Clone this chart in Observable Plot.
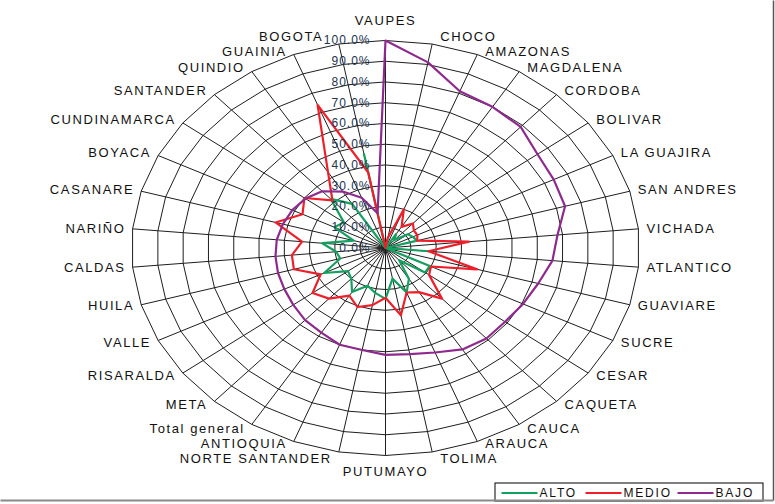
<!DOCTYPE html>
<html><head><meta charset="utf-8">
<script src="https://cdn.jsdelivr.net/npm/d3@7"></script>
<script src="https://cdn.jsdelivr.net/npm/@observablehq/plot@0.6"></script>
<style>
html,body{margin:0;padding:0;background:#fff;}
#chart svg{display:block;}
</style></head><body><div id="chart"></div>
<script>
// ---- data ----
const categories = ["VAUPES","CHOCO","AMAZONAS","MAGDALENA","CORDOBA","BOLIVAR","LA GUAJIRA","SAN ANDRES","VICHADA","ATLANTICO","GUAVIARE","SUCRE","CESAR","CAQUETA","CAUCA","ARAUCA","TOLIMA","PUTUMAYO","NORTE SANTANDER","ANTIOQUIA","Total general","META","RISARALDA","VALLE","HUILA","CALDAS","NARIÑO","CASANARE","BOYACA","CUNDINAMARCA","SANTANDER","QUINDIO","GUAINIA","BOGOTA"];
const seriesNames = ["ALTO","MEDIO","BAJO"];
const alto  = [0, 4, 0, 8, 5, 11, 12, 13, 0, 17, 0, 19.5, 19.5, 8, 17.5, 23, 15, 24.5, 22, 19.5, 25, 20, 18.5, 27, 18.5, 19.5, 25, 13, 22.5, 20.5, 32, 25, 0, 46];
const medio = [0, 5, 20, 12, 16, 14, 14, 13, 33, 17, 37.5, 20, 21.5, 33, 25, 23, 33, 24, 28, 30.5, 27, 33, 36, 28.5, 37.5, 37, 33, 45, 36.5, 40, 31, 43, 74, 37];
const bajo  = [100, 91, 81, 80, 79, 75, 74, 73.5, 68, 66, 62.5, 60.5, 59, 59, 57.5, 54, 52, 51.5, 50, 50, 48, 47, 45.5, 44.5, 44, 43.5, 43, 42, 41, 39.5, 37, 32, 26, 17];
const tickLabels = ["0.0%","10.0%","20.0%","30.0%","40.0%","50.0%","60.0%","70.0%","80.0%","90.0%","100.0%"];
const colors = ["#14a060","#ee1f2a","#8e2a8e"];

// ---- layout ----
const W = 775, H = 504, CX = 385, CY = 247.5, RX = 254, RY = 207.5;
const X = p => (p - CX) / RX, Y = p => (CY - p) / RY;
const n = categories.length;
const ang = i => 2 * Math.PI * i / n;

const pts = [];
[alto, medio, bajo].forEach((vals, s) => vals.forEach((v, i) => pts.push({series: seriesNames[s], i, r: v / 100})));
const px = d => d.r * Math.sin(ang(d.i)), py = d => d.r * Math.cos(ang(d.i));

const rings = d3.range(1, 11).flatMap(k => categories.map((c, i) => ({k, i, r: k / 10})));
const spokes = categories.map((c, i) => ({i}));

const labels = categories.map((c, i) => {
  const t = ang(i), s = Math.sin(t), co = Math.cos(t);
  const rx = CX + RX * s, ry = CY - RY * co;
  let anchor, lx, ly;
  if (Math.abs(s) < 0.05) { anchor = "middle"; lx = rx; ly = co > 0 ? ry - 20 : ry + 16; }
  else { anchor = s > 0 ? "start" : "end"; lx = rx + (s > 0 ? 8 : -7); ly = ry - 5 * co; }
  return {name: c, anchor, x: X(lx), y: Y(ly)};
});

const legendX = [501, 585, 677], legendLine = 36, legendY = 492.5;
const legend = seriesNames.map((s, k) => ({s, x1: X(legendX[k]), x2: X(legendX[k] + legendLine), tx: X(legendX[k] + legendLine + 2), y: Y(legendY)}));

const font = "'Liberation Sans', Arial, sans-serif";
const lblText = (anchor) => Plot.text(labels.filter(d => d.anchor === anchor), {x: "x", y: "y", text: "name", textAnchor: anchor, fontSize: 13, fill: "#111"});

const chart = Plot.plot({
  width: W, height: H, margin: 0,
  style: {fontFamily: font, background: "#fff"},
  x: {domain: [X(0), X(W)], axis: null},
  y: {domain: [Y(H), Y(0)], axis: null},
  color: {domain: seriesNames, range: colors},
  marks: [
    Plot.line(rings, {x: px, y: py, z: "k", curve: "linear-closed", stroke: "#1e1e1e", strokeWidth: 1}),
    Plot.link(spokes, {x1: () => 0, y1: () => 0, x2: d => Math.sin(ang(d.i)), y2: d => Math.cos(ang(d.i)), stroke: "#1e1e1e", strokeWidth: 1}),
    ...seriesNames.map((s, k) => Plot.line(pts.filter(d => d.series === s), {x: px, y: py, curve: "linear-closed", stroke: colors[k], strokeWidth: 2.2})),
    Plot.text(tickLabels, {x: () => X(CX - 15), y: (d, k) => k / 10, text: d => d, textAnchor: "end", fontSize: 12, fill: "#22344f"}),
    lblText("start"), lblText("middle"), lblText("end"),
    // legend box and frame
    Plot.rect([0], {x1: () => X(495), x2: () => X(763), y1: () => Y(483), y2: () => Y(501), fill: "#fff", stroke: "#000", strokeWidth: 1}),
    Plot.link(legend, {x1: "x1", x2: "x2", y1: "y", y2: "y", stroke: "s", strokeWidth: 2}),
    Plot.text(legend, {x: "tx", y: "y", text: "s", textAnchor: "start", fontSize: 12, fill: "#111"}),
    Plot.link([0], {x1: () => X(773), x2: () => X(773), y1: () => Y(0), y2: () => Y(500), stroke: "#555", strokeWidth: 1.5}),
    Plot.link([0], {x1: () => X(0), x2: () => X(773), y1: () => Y(500), y2: () => Y(500), stroke: "#8a8a8a", strokeWidth: 2})
  ]
});
document.getElementById("chart").appendChild(chart);

// letter spacing to mimic the stretched typography
const allText = d3.select(chart).selectAll("text");
allText.attr("letter-spacing", function() {
  const t = this.textContent;
  if (t.endsWith("%")) return "1px";
  if (seriesNames.includes(t)) return "1.8px";
  return "1.6px";
});

// small nudge so category labels do not collide with other texts
const nodes = allText.nodes();
const isCat = el => categories.includes(el.textContent);
const shift = new Map();
const box = el => { const b = el.getBoundingClientRect(); return {x0: b.left, x1: b.right, y0: b.top, y1: b.bottom}; };
const move = (el, dx, dy) => {
  const s = shift.get(el) || [0, 0]; s[0] += dx; s[1] += dy; shift.set(el, s);
  const base = el.dataset.base ?? (el.dataset.base = el.getAttribute("transform") || "");
  el.setAttribute("transform", `${base} translate(${s[0]},${s[1]})`);
};
for (let pass = 0; pass < 4; pass++) {
  for (let a = 0; a < nodes.length; a++) for (let b = 0; b < nodes.length; b++) {
    if (a === b || !isCat(nodes[a])) continue;
    const A = box(nodes[a]), B = box(nodes[b]);
    const ox = Math.min(A.x1, B.x1) - Math.max(A.x0, B.x0), oy = Math.min(A.y1, B.y1) - Math.max(A.y0, B.y0);
    if (ox <= 0 || oy <= 0) continue;
    if (isCat(nodes[b])) {
      if (b < a) continue;
      const up = A.y0 < B.y0 ? nodes[a] : nodes[b], dn = up === nodes[a] ? nodes[b] : nodes[a];
      move(up, 0, -(oy / 2 + 0.3)); move(dn, 0, oy / 2 + 0.3);
    } else {
      const cx = (A.x0 + A.x1) / 2, bx = (B.x0 + B.x1) / 2;
      if (ox < oy) move(nodes[a], cx < bx ? -(ox + 0.5) : ox + 0.5, 0);
      else move(nodes[a], 0, (A.y0 < B.y0 ? -1 : 1) * (oy + 0.5));
    }
  }
}
</script></body></html>
